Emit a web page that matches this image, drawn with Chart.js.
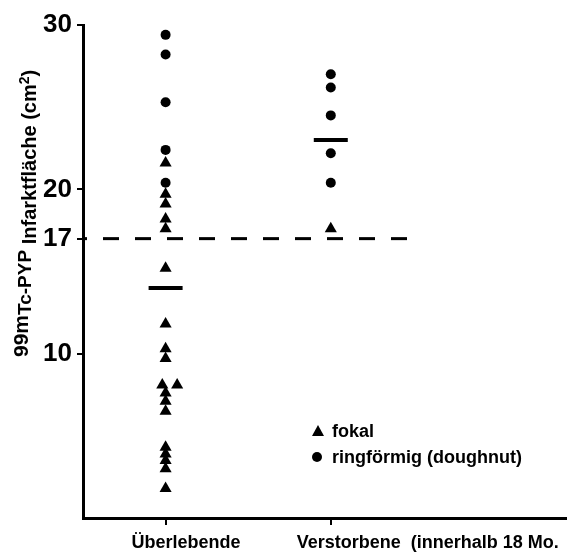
<!DOCTYPE html>
<html>
<head>
<meta charset="utf-8">
<script src="https://cdn.jsdelivr.net/npm/chart.js@4.4.1/dist/chart.umd.min.js"></script>
<style>
  html, body { margin: 0; padding: 0; background: #fff; }
  canvas { display: block; }
</style>
</head>
<body>
<canvas id="myChart" width="567" height="553"></canvas>
<script>
const groups = ['Überlebende', 'Verstorbene  (innerhalb 18 Mo.'];
const groupX = [1, 2];
const yTicks = [10, 17, 20, 30];
const cutoff = 17;

// Überlebende
const survFokal  = [21.6, 19.7, 19.1, 18.2, 17.6, 15.2, 11.8, 10.3, 9.7, 8.1, 8.1, 7.6, 7.1, 6.5, 4.3, 3.9, 3.5, 3.0, 1.8];
const survFokalX = [1, 1, 1, 1, 1, 1, 1, 1, 1, 0.98, 1.07, 1, 1, 1, 1, 1, 1, 1, 1];
const survRing   = [29.4, 28.2, 25.3, 22.4, 20.4];

// Verstorbene
const decFokal = [17.6];
const decRing  = [27.0, 26.2, 24.5, 22.2, 20.4];

// Mittelwerte
const means = [14.0, 23.0];

const FONT = "'Liberation Sans', Arial, Helvetica, sans-serif";
const ctx = document.getElementById('myChart');

const pts = (xs, ys) => ys.map((v, i) => ({ x: Array.isArray(xs) ? xs[i] : xs, y: v }));

const labelsPlugin = {
  id: 'labels',
  afterDraw(chart) {
    const c = chart.ctx;
    const xs = chart.scales.x;
    c.save();
    c.fillStyle = '#000';
    c.textBaseline = 'alphabetic';
    c.textAlign = 'left';

    // x labels
    c.font = 'bold 18px ' + FONT;
    groups.forEach((g, i) => {
      c.fillText(g, xs.getPixelForValue(groupX[i]) - 34, 548);
    });

    // y title (rotated)
    c.save();
    c.translate(0, 357);
    c.rotate(-Math.PI / 2);
    let x = 0;
    const parts = [
      ['99m', 21, 28],
      ['Tc-PYP', 19, 31],
      [' Infarktfläche (cm', 20, 36],
      ['2', 14, 29],
      [')', 20, 36]
    ];
    parts.forEach(([t, size, base]) => {
      c.font = 'bold ' + size + 'px ' + FONT;
      c.fillText(t, x, base);
      x += c.measureText(t).width;
    });
    c.restore();

    // legend
    c.font = 'bold 18px ' + FONT;
    c.beginPath();
    c.moveTo(318, 425);
    c.lineTo(324, 436);
    c.lineTo(312, 436);
    c.closePath();
    c.fill();
    c.fillText('fokal', 332, 437);
    c.beginPath();
    c.arc(317, 457, 5, 0, Math.PI * 2);
    c.fill();
    c.fillText('ringförmig (doughnut)', 332, 463);
    c.restore();
  }
};

new Chart(ctx,
  {
    type: 'scatter',
    data:
    {
      datasets:
      [
        {
          label: 'Mittelwert',
          data: pts(groupX, means),
          pointStyle: 'line',
          pointRadius: 17,
          borderWidth: 4,
          borderColor: '#000',
          backgroundColor: '#000'
        },
        {
          label: 'fokal',
          data: pts(survFokalX, survFokal).concat(pts(groupX[1], decFokal)),
          pointStyle: 'triangle',
          pointRadius: 7,
          borderWidth: 0,
          backgroundColor: '#000'
        },
        {
          label: 'ringförmig (doughnut)',
          data: pts(groupX[0], survRing).concat(pts(groupX[1], decRing)),
          pointStyle: 'circle',
          pointRadius: 5,
          borderWidth: 0,
          backgroundColor: '#000'
        },
        {
          label: 'Grenzwert',
          type: 'line',
          data: [{ x: 0.5, y: cutoff }, { x: 2.48, y: cutoff }],
          borderColor: '#000',
          borderWidth: 3,
          borderDash: [16, 16],
          borderDashOffset: 12,
          pointRadius: 0
        }
      ]
    },

    options:
    {
      responsive: false,
      animation: false,
      layout: { autoPadding: false, padding: { top: 25, right: 0, left: 0, bottom: 0 } },
      scales:
      {
        x:
        {
          type: 'linear',
          min: 0.5,
          max: 3.43,
          afterBuildTicks: s => { s.ticks = groupX.map(v => ({ value: v })); },
          afterFit: s => { s.height = 35; },
          ticks: { display: false },
          grid: { drawOnChartArea: false, drawTicks: true, tickLength: 7, color: '#000', lineWidth: 2 },
          border: { display: true, color: '#000', width: 3 }
        },
        y:
        {
          type: 'linear',
          min: 0,
          max: 30,
          afterBuildTicks: s => { s.ticks = yTicks.map(v => ({ value: v })); },
          afterFit: s => { s.width = 83; },
          ticks: { color: '#000', padding: 5, font: { family: FONT, size: 26, weight: 'bold' } },
          grid: { drawOnChartArea: false, drawTicks: true, tickLength: 6, color: '#000', lineWidth: 2 },
          border: { display: true, color: '#000', width: 3 }
        }
      },
      plugins:
      {
        legend: { display: false },
        tooltip: { enabled: false }
      }
    },
    plugins: [labelsPlugin]
  }
  );
</script>
</body>
</html>
